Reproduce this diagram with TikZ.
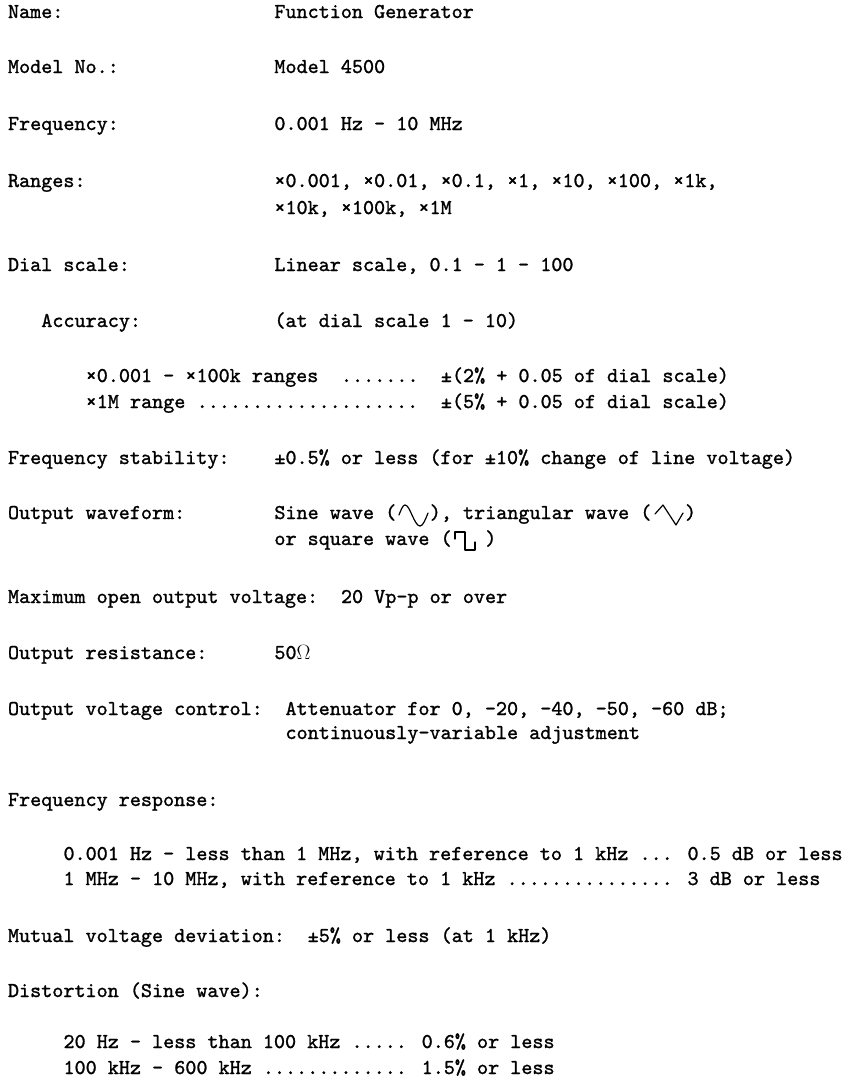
\documentclass[tikz,border=0pt]{standalone}
\usepackage{fontspec}
\usepackage{tikz}
\newfontfamily\typefont[FakeBold=1.2]{lmmono10-regular.otf}
\newcommand{\tw}{\typefont\fontsize{21.1}{24}\selectfont}
\tikzset{
  entry/.style={anchor=base west, inner sep=0pt, outer sep=0pt, font=\tw},
  wave/.style={line width=1.2pt, line join=round, line cap=round},
}

\begin{document}
\begin{tikzpicture}[x=1pt, y=-1pt]
    \useasboundingbox (0,0) rectangle (849,1080);

    % Name, model, frequency
    \node[entry] (nameL) at (8,18) {Name:};
    \node[entry] (nameV) at (274.4,18) {Function Generator};
    \node[entry] (modelL) at (8,73) {Model No.:};
    \node[entry] (modelV) at (274.4,73) {Model 4500};
    \node[entry] (freqL) at (8,130) {Frequency:};
    \node[entry] (freqV) at (274.4,130) {0.001 Hz - 10 MHz};

    % Ranges and dial
    \node[entry] (rangeL) at (8,187) {Ranges:};
    \node[entry] (rangeA) at (274.4,187) {×0.001, ×0.01, ×0.1, ×1, ×10, ×100, ×1k,};
    \node[entry] (rangeB) at (274.4,214) {×10k, ×100k, ×1M};
    \node[entry] (dialL) at (8,271) {Dial scale:};
    \node[entry] (dialV) at (274.4,271) {Linear scale, 0.1 - 1 - 100};

    % Accuracy
    \node[entry] (accL) at (41.3,327) {Accuracy:};
    \node[entry] (accV) at (274.4,327) {(at dial scale 1 - 10)};
    \node[entry] (accA) at (85.7,382) {×0.001 - ×100k ranges};
    \node[entry] (accAdots) at (341,382) {.......};
    \node[entry] (accAval) at (440.9,382) {±(2\% + 0.05 of dial scale)};
    \node[entry] (accB) at (85.7,408) {×1M range};
    \node[entry] (accBdots) at (196.7,408) {....................};
    \node[entry] (accBval) at (440.9,408) {±(5\% + 0.05 of dial scale)};

    % Stability
    \node[entry] (stabL) at (8,464) {Frequency stability:};
    \node[entry] (stabV) at (274.4,464) {±0.5\% or less (for ±10\% change of line voltage)};

    % Waveforms
    \node[entry] (waveL) at (8,519) {Output waveform:};
    \node[entry] (sineT) at (274.4,519) {Sine wave (};
    \node[entry] (triT) at (429.8,519) {), triangular wave (};
    \node[entry] (triE) at (685,519) {)};
    \node[entry] (sqT) at (274.4,545) {or square wave (};
    \node[entry] (sqE) at (485.3,545) {)};
    \draw[wave] (399,515) sin (405,505) cos (412,515) sin (420,526) cos (428,513);
    \draw[wave] (655,514) -- (663,505) -- (676,525) -- (683,513);
    \draw[wave] (455,539) -- (455,532) -- (465,532) -- (465,550) -- (475,550) -- (475,542);

    % Output
    \node[entry] (maxL) at (8,603) {Maximum open output voltage:};
    \node[entry] (maxV) at (341,603) {20 Vp-p or over};
    \node[entry] (resL) at (8,659) {Output resistance:};
    \node[entry] (resV) at (274.4,659) {50$\Omega$};
    \node[entry] (ctrlL) at (8,715) {Output voltage control:};
    \node[entry] (ctrlA) at (285.5,715) {Attenuator for 0, -20, -40, -50, -60 dB;};
    \node[entry] (ctrlB) at (285.5,739) {continuously-variable adjustment};

    % Frequency response
    \node[entry] (respL) at (8,806) {Frequency response:};
    \node[entry] (respA) at (63.5,860) {0.001 Hz - less than 1 MHz, with reference to 1 kHz ... 0.5 dB or less};
    \node[entry] (respB) at (63.5,885) {1 MHz - 10 MHz, with reference to 1 kHz ............... 3 dB or less};

    % Deviation, distortion
    \node[entry] (devL) at (8,942) {Mutual voltage deviation:};
    \node[entry] (devV) at (307.7,942) {±5\% or less (at 1 kHz)};
    \node[entry] (distL) at (8,997) {Distortion (Sine wave):};
    \node[entry] (distA) at (63.5,1048) {20 Hz - less than 100 kHz ..... 0.6\% or less};
    \node[entry] (distB) at (63.5,1074) {100 kHz - 600 kHz ............. 1.5\% or less};
\end{tikzpicture}
\end{document}
